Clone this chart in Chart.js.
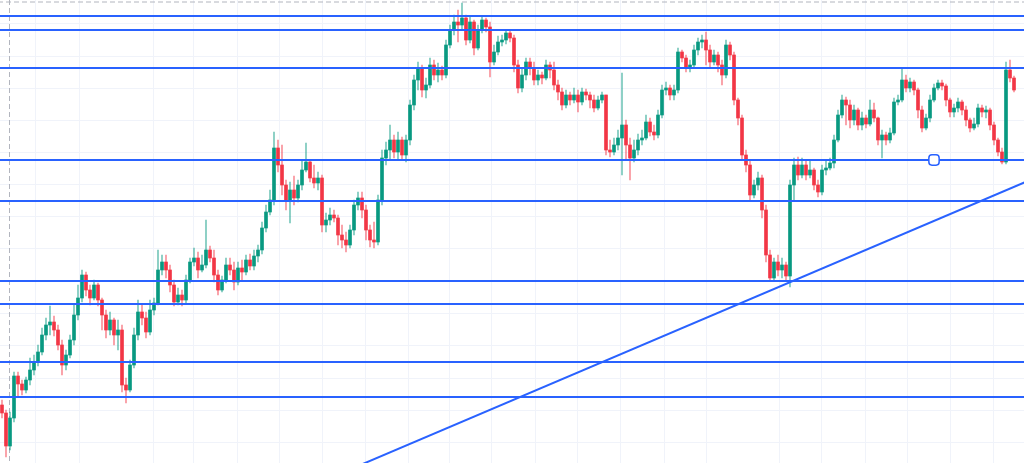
<!DOCTYPE html>
<html>
<head>
<meta charset="utf-8">
<title>Chart</title>
<script src="https://cdn.jsdelivr.net/npm/chart.js@4.4.1/dist/chart.umd.min.js"></script>
<style>
  html, body { margin: 0; padding: 0; background: #ffffff; }
  #wrap { width: 1024px; height: 463px; position: relative; }
</style>
</head>
<body>
<div id="wrap"><canvas id="priceChart"></canvas></div>
<script>
// price levels are read top-down (the y axis is reversed), one candle per bar index
var firstOpen = 405;
var closes = [
  413, 446, 418, 376, 384, 390, 380, 370, 362, 352, 335, 325, 322, 330, 345, 365, 355, 340, 315, 298,
  275, 290, 298, 285, 300, 315, 330, 320, 335, 330, 385, 390, 365, 335, 312, 318, 332, 310, 303, 270,
  262, 270, 285, 302, 295, 300, 280, 262, 258, 270, 265, 250, 258, 275, 290, 280, 265, 270, 282, 268,
  272, 260, 266, 256, 250, 228, 212, 200, 148, 165, 185, 200, 190, 198, 185, 170, 162, 178, 183, 178,
  225, 220, 215, 218, 235, 240, 245, 230, 205, 198, 210, 230, 240, 242, 200, 158, 150, 140, 152, 140,
  155, 140, 105, 80, 68, 90, 85, 65, 75, 70, 75, 45, 30, 22, 25, 18, 40, 22, 48, 30,
  20, 27, 62, 52, 42, 40, 33, 38, 65, 88, 75, 62, 68, 80, 75, 78, 65, 70, 85, 92,
  105, 95, 100, 95, 102, 92, 95, 100, 108, 100, 95, 150, 152, 145, 138, 125, 145, 158, 150, 140,
  138, 122, 132, 135, 115, 90, 88, 95, 90, 52, 58, 68, 65, 50, 42, 40, 50, 62, 55, 65,
  75, 45, 55, 100, 118, 155, 165, 195, 185, 178, 210, 255, 278, 262, 270, 265, 276, 185, 165, 175,
  165, 175, 170, 185, 192, 170, 168, 163, 140, 115, 100, 105, 120, 110, 125, 118, 124, 110, 118, 140,
  135, 140, 133, 102, 100, 80, 88, 82, 90, 110, 128, 118, 100, 88, 83, 86, 100, 112, 108, 102,
  110, 120, 128, 124, 108, 112, 110, 125, 140, 152, 162, 70, 78, 90
];
var highs = [
  400, 410, 412, 372, 372, 380, 377, 358, 355, 345, 328, 318, 306, 316, 325, 340, 350, 335, 305, 285,
  270, 272, 285, 280, 283, 298, 310, 312, 318, 320, 325, 378, 360, 328, 300, 305, 312, 300, 298, 250,
  255, 255, 265, 280, 288, 290, 275, 258, 248, 252, 255, 220, 246, 250, 270, 276, 258, 258, 262, 262,
  260, 255, 254, 250, 245, 222, 205, 190, 132, 140, 145, 180, 182, 176, 180, 160, 143, 160, 165, 172,
  175, 213, 208, 210, 215, 225, 232, 225, 200, 192, 192, 205, 225, 222, 195, 150, 142, 125, 135, 132,
  137, 135, 100, 75, 62, 65, 78, 58, 60, 63, 66, 40, 25, 15, 10, 3, 15, 17, 20, 25,
  17, 18, 22, 45, 36, 35, 30, 30, 35, 60, 68, 58, 58, 62, 70, 72, 60, 62, 62, 80,
  88, 90, 92, 88, 90, 88, 89, 92, 95, 96, 92, 95, 140, 138, 130, 73, 120, 138, 140, 134,
  130, 115, 118, 125, 110, 85, 82, 85, 85, 48, 50, 55, 60, 45, 38, 35, 32, 45, 50, 52,
  60, 40, 42, 52, 98, 115, 150, 160, 180, 172, 175, 205, 250, 258, 255, 258, 262, 180, 158, 157,
  158, 160, 160, 168, 180, 165, 160, 158, 135, 110, 95, 97, 100, 105, 108, 112, 115, 100, 103, 117,
  130, 132, 128, 98, 95, 68, 75, 78, 80, 88, 106, 114, 95, 84, 80, 80, 84, 98, 104, 98,
  100, 106, 118, 118, 104, 105, 106, 108, 122, 138, 148, 62, 60, 76
];
var lows = [
  418, 457, 450, 422, 396, 395, 393, 385, 375, 366, 355, 340, 335, 336, 350, 375, 370, 358, 345, 320,
  302, 296, 305, 300, 306, 330, 338, 335, 345, 350, 392, 403, 392, 368, 340, 325, 338, 335, 315, 305,
  275, 278, 292, 306, 305, 306, 303, 283, 266, 278, 272, 268, 262, 282, 295, 292, 283, 275, 290, 285,
  280, 275, 270, 270, 262, 254, 232, 215, 205, 172, 195, 210, 223, 205, 202, 190, 172, 182, 188, 190,
  232, 232, 225, 222, 245, 248, 252, 248, 235, 210, 218, 240, 247, 248, 245, 205, 165, 160, 158, 160,
  160, 162, 145, 110, 90, 97, 98, 88, 80, 82, 80, 78, 48, 35, 42, 30, 45, 43, 55, 50,
  33, 32, 77, 65, 55, 46, 44, 42, 72, 93, 92, 80, 75, 85, 85, 84, 80, 78, 90, 100,
  110, 108, 105, 103, 112, 105, 100, 108, 112, 110, 103, 155, 157, 155, 150, 175, 160, 180, 162, 155,
  145, 140, 136, 140, 138, 118, 95, 100, 100, 93, 62, 72, 72, 68, 55, 48, 65, 68, 65, 72,
  85, 78, 60, 105, 125, 160, 172, 200, 198, 190, 218, 262, 281, 280, 276, 278, 280, 287, 200, 180,
  178, 180, 178, 190, 197, 195, 175, 170, 168, 142, 118, 125, 128, 125, 130, 130, 128, 126, 122, 145,
  158, 145, 143, 135, 105, 102, 92, 92, 95, 118, 132, 130, 122, 102, 90, 90, 106, 117, 117, 112,
  115, 126, 132, 130, 127, 117, 118, 130, 145, 156, 164, 164, 82, 92
];

// horizontal support / resistance levels and the rising trend line
var levels = [16, 30, 68, 160, 201, 281, 304, 362, 397];
var trendX = [87, 257];
var trendY = [469.4, 180];
var handle = { x: 233, y: 160 };
var crosshair = { x: 1.875, y: 2 };

// time / price grid positions
var xGrid = [8.25, 19.25, 37.75, 47.75, 58.75, 69.25, 80, 90.75, 101.5, 111.75, 122.25,
  133.25, 143.75, 154.5, 165.5, 176, 194.25, 204.75, 215.75, 226.25, 237, 247.75];
var yGrid = [23, 56, 88, 120, 152, 184, 216, 248, 281, 313, 345, 378, 410, 442];

var upColor = "#089981";
var downColor = "#f23645";
var lineBlue = "#2962ff";

var bodies = [];
var wicks = [];
var bodyColors = [];
var wickColors = [];
for (let i = 0; i < closes.length; i++) {
    var o = i === 0 ? firstOpen : closes[i - 1];
    var c = closes[i];
    bodies.push({ x: i, y: [o, c] });
    wicks.push({ x: i, y: [Math.min(highs[i], o, c), Math.max(lows[i], o, c)] });
    var up = c <= o;
    bodyColors.push(up ? upColor : downColor);
    wickColors.push(up ? "rgba(8,153,129,0.55)" : "rgba(242,54,69,0.55)");
}

var datasets = [];
levels.forEach(function(lv) {
    datasets.push({
        type: "line",
        data: [{ x: -1, y: lv }, { x: 257, y: lv }],
        borderColor: lineBlue,
        borderWidth: 2,
        pointRadius: 0,
        order: 0
    });
});
datasets.push({
    type: "line",
    data: [{ x: trendX[0], y: trendY[0] }, { x: trendX[1], y: trendY[1] }],
    borderColor: lineBlue,
    borderWidth: 2,
    pointRadius: 0,
    order: 0
});
datasets.push({
    type: "line",
    data: [{ x: handle.x, y: handle.y }],
    showLine: false,
    pointStyle: "rectRounded",
    pointRadius: 6,
    pointBackgroundColor: "#ffffff",
    pointBorderColor: lineBlue,
    pointBorderWidth: 1.5,
    order: -1
});
datasets.push({
    type: "line",
    data: [{ x: crosshair.x, y: 0 }, { x: crosshair.x, y: 463 }],
    borderColor: "#b2b5be",
    borderWidth: 1,
    borderDash: [5, 3],
    pointRadius: 0,
    order: 3
});
datasets.push({
    type: "line",
    data: [{ x: -1, y: crosshair.y }, { x: 257, y: crosshair.y }],
    borderColor: "#b2b5be",
    borderWidth: 1,
    borderDash: [5, 3],
    pointRadius: 0,
    order: 3
});
datasets.push({
    type: "bar",
    data: bodies,
    backgroundColor: bodyColors,
    barThickness: 3,
    minBarLength: 1,
    grouped: false,
    order: 1
});
datasets.push({
    type: "bar",
    data: wicks,
    backgroundColor: wickColors,
    barThickness: 1,
    grouped: false,
    order: 2
});

var ctx = document.getElementById("priceChart").getContext("2d");
var priceChart = new Chart(ctx, {
    type: "bar",
    data: { datasets: datasets },
    options: {
        responsive: true,
        maintainAspectRatio: false,
        animation: false,
        layout: { padding: 0, autoPadding: false },
        plugins: { legend: { display: false }, tooltip: { enabled: false } },
        scales: {
            x: {
                type: "linear",
                min: -0.5,
                max: 255.5,
                offset: false,
                afterBuildTicks: function(scale) {
                    scale.ticks = xGrid.map(function(v) { return { value: v }; });
                },
                ticks: { display: false },
                grid: { color: "#f0f3fa", drawTicks: false, offset: false },
                border: { display: false }
            },
            y: {
                type: "linear",
                min: 0,
                max: 463,
                reverse: true,
                afterBuildTicks: function(scale) {
                    scale.ticks = yGrid.map(function(v) { return { value: v }; });
                },
                ticks: { display: false },
                grid: { color: "#f0f3fa", drawTicks: false },
                border: { display: false }
            }
        }
    }
});
</script>
</body>
</html>
